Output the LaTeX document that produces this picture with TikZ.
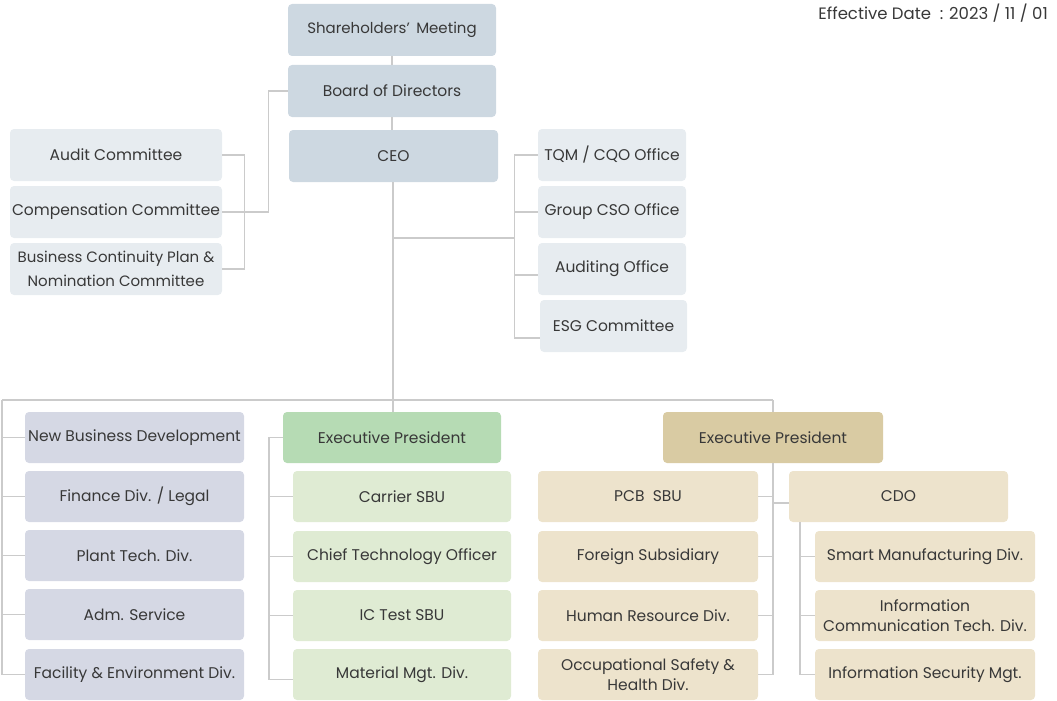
\documentclass[tikz,border=0pt]{standalone}
\usepackage{fontspec}
\setmainfont{Poppins}
\definecolor{topc}{HTML}{CDD8E1}
\definecolor{lightc}{HTML}{E7ECF0}
\definecolor{lavc}{HTML}{D5D8E4}
\definecolor{greenh}{HTML}{B6DBB4}
\definecolor{greens}{HTML}{DFEBD3}
\definecolor{tanh}{HTML}{D9CBA3}
\definecolor{tans}{HTML}{EDE3CC}
\definecolor{linec}{HTML}{CBCBCB}
\definecolor{txt}{HTML}{383838}
\tikzset{
  box/.style={rectangle, rounded corners=4pt, draw=none, inner sep=1pt, align=center, text=txt,
    font=\fontsize{15.5}{20}\selectfont},
  conn/.style={draw=linec, line width=1.3pt},
}
\begin{document}
\begin{tikzpicture}[x=1pt,y=-1pt]
\useasboundingbox (0,0) rectangle (1057,701);
% top
\node[box, fill=topc, minimum width=208pt, minimum height=52pt, font=\fontsize{15}{18}\selectfont] (sh) at (392,30) {Shareholders’\, Meeting};
\node[box, fill=topc, minimum width=208pt, minimum height=52pt] (bod) at (392,91) {Board of Directors};
\node[box, fill=topc, minimum width=209pt, minimum height=52pt] (ceo) at (393.5,156) {CEO};
% committees
\node[box, fill=lightc, minimum width=212pt, minimum height=52pt] (audit) at (116,155) {Audit Committee};
\node[box, fill=lightc, minimum width=212pt, minimum height=52pt] (comp) at (116,212) {Compensation Committee};
\node[box, fill=lightc, minimum width=212pt, minimum height=52pt, font=\fontsize{15}{24}\selectfont] (bcp) at (116,269) {Business Continuity Plan \&\\Nomination Committee};
% offices
\node[box, fill=lightc, minimum width=148pt, minimum height=52pt] (tqm) at (612,155) {TQM / CQO Office};
\node[box, fill=lightc, minimum width=148pt, minimum height=52pt] (cso) at (612,212) {Group CSO Office};
\node[box, fill=lightc, minimum width=148pt, minimum height=52pt] (audo) at (612,269) {Auditing Office};
\node[box, fill=lightc, minimum width=147pt, minimum height=52pt] (esg) at (613.5,326) {ESG Committee};
% effective date
\node[anchor=north east, text=txt, inner sep=0pt, font=\fontsize{16.5}{18}\selectfont] (eff) at (1048,4) {Effective Date\ \ : 2023 / 11 / 01};
% left column
\node[box, fill=lavc, minimum width=219pt, minimum height=51pt] (nbd) at (134.5,437.5) {New Business Development};
\node[box, fill=lavc, minimum width=219pt, minimum height=51pt] (fin) at (134.5,496.5) {Finance Div. / Legal};
\node[box, fill=lavc, minimum width=219pt, minimum height=51pt] (plant) at (134.5,555.5) {Plant Tech. Div.};
\node[box, fill=lavc, minimum width=219pt, minimum height=51pt] (adm) at (134.5,614.5) {Adm. Service};
\node[box, fill=lavc, minimum width=219pt, minimum height=51pt] (fac) at (134.5,674.5) {Facility \& Environment Div.};
% green column
\node[box, fill=greenh, minimum width=218pt, minimum height=51pt] (ep1) at (392,437.5) {Executive President};
\node[box, fill=greens, minimum width=218pt, minimum height=51pt] (carrier) at (402,496.5) {Carrier SBU};
\node[box, fill=greens, minimum width=218pt, minimum height=51pt] (cto) at (402,556.5) {Chief Technology Officer};
\node[box, fill=greens, minimum width=218pt, minimum height=51pt] (ictest) at (402,615.5) {IC Test SBU};
\node[box, fill=greens, minimum width=218pt, minimum height=51pt] (mat) at (402,674.5) {Material Mgt. Div.};
% tan column
\node[box, fill=tanh, minimum width=220pt, minimum height=51pt] (ep2) at (773,437.5) {Executive President};
\node[box, fill=tans, minimum width=220pt, minimum height=51pt] (pcb) at (648,496.5) {PCB\ \ SBU};
\node[box, fill=tans, minimum width=220pt, minimum height=51pt] (fs) at (648,556.5) {Foreign Subsidiary};
\node[box, fill=tans, minimum width=220pt, minimum height=51pt] (hr) at (648,615.5) {Human Resource Div.};
\node[box, fill=tans, minimum width=220pt, minimum height=51pt, font=\fontsize{15.5}{20}\selectfont] (osh) at (648,674.5) {Occupational Safety \&\\Health Div.};
\node[box, fill=tans, minimum width=219pt, minimum height=51pt] (cdo) at (898.5,496.5) {CDO};
\node[box, fill=tans, minimum width=220pt, minimum height=51pt] (smd) at (925,556.5) {Smart Manufacturing Div.};
\node[box, fill=tans, minimum width=220pt, minimum height=51pt, font=\fontsize{15.5}{20}\selectfont] (ict) at (925,615.5) {Information\\Communication Tech. Div.};
\node[box, fill=tans, minimum width=220pt, minimum height=51pt] (ism) at (925,674.5) {Information Security Mgt.};
% coordinates
\coordinate (cj) at (393,238);
\coordinate (busc) at (393,400);
\coordinate (busl) at (2,400);
\coordinate (busr) at (773,400);
\coordinate (gx) at (269,0);
\coordinate (tx) at (773,0);
\coordinate (cx) at (800,0);
\coordinate (cdoj) at (773,503);
% connectors top
\draw[conn] (sh.south) -- (bod.north);
\draw[conn] (bod.south) -- (ceo.north -| bod.south);
\draw[conn] (bod.west) -- ++(-19,0) |- (comp.east);
\draw[conn] (audit.east) -- ++(22,0) |- (bcp.east);
\draw[conn] (ceo.south -| busc) -- (busc);
\draw[conn] (cj) -- ++(122,0);
\draw[conn] (tqm.west) -- ++(-23,0) |- ([yshift=-12pt]esg.west);
\draw[conn] (cso.west) -- ++(-23,0);
\draw[conn] ([yshift=-6pt]audo.west) -- ++(-23,0);
% bus
\draw[conn] (busl) -- (busr);
\draw[conn] (busc) -- (ep1.north -| busc);
\draw[conn] (busl) |- (fac.west);
\foreach \n in {nbd,fin,plant,adm} \draw[conn] (busl |- \n.west) -- (\n.west);
% green
\draw[conn] (ep1.west) -- (gx |- ep1.west) |- ([yshift=-5pt]mat.west);
\foreach \n in {carrier,cto,ictest} \draw[conn] (gx |- \n.west) -- (\n.west);
% tan
\draw[conn] (busr) -- (ep2.north);
\draw[conn] (ep2.south) |- (osh.east);
\foreach \n in {pcb,fs,hr} \draw[conn] (\n.east) -- (tx |- \n.east);
\draw[conn] (cdoj) -- ([yshift=-6.5pt]cdo.west);
\draw[conn] (cx |- cdo.south) |- (ism.west);
\foreach \n in {smd,ict} \draw[conn] (cx |- \n.west) -- (\n.west);
\end{tikzpicture}
\end{document}
